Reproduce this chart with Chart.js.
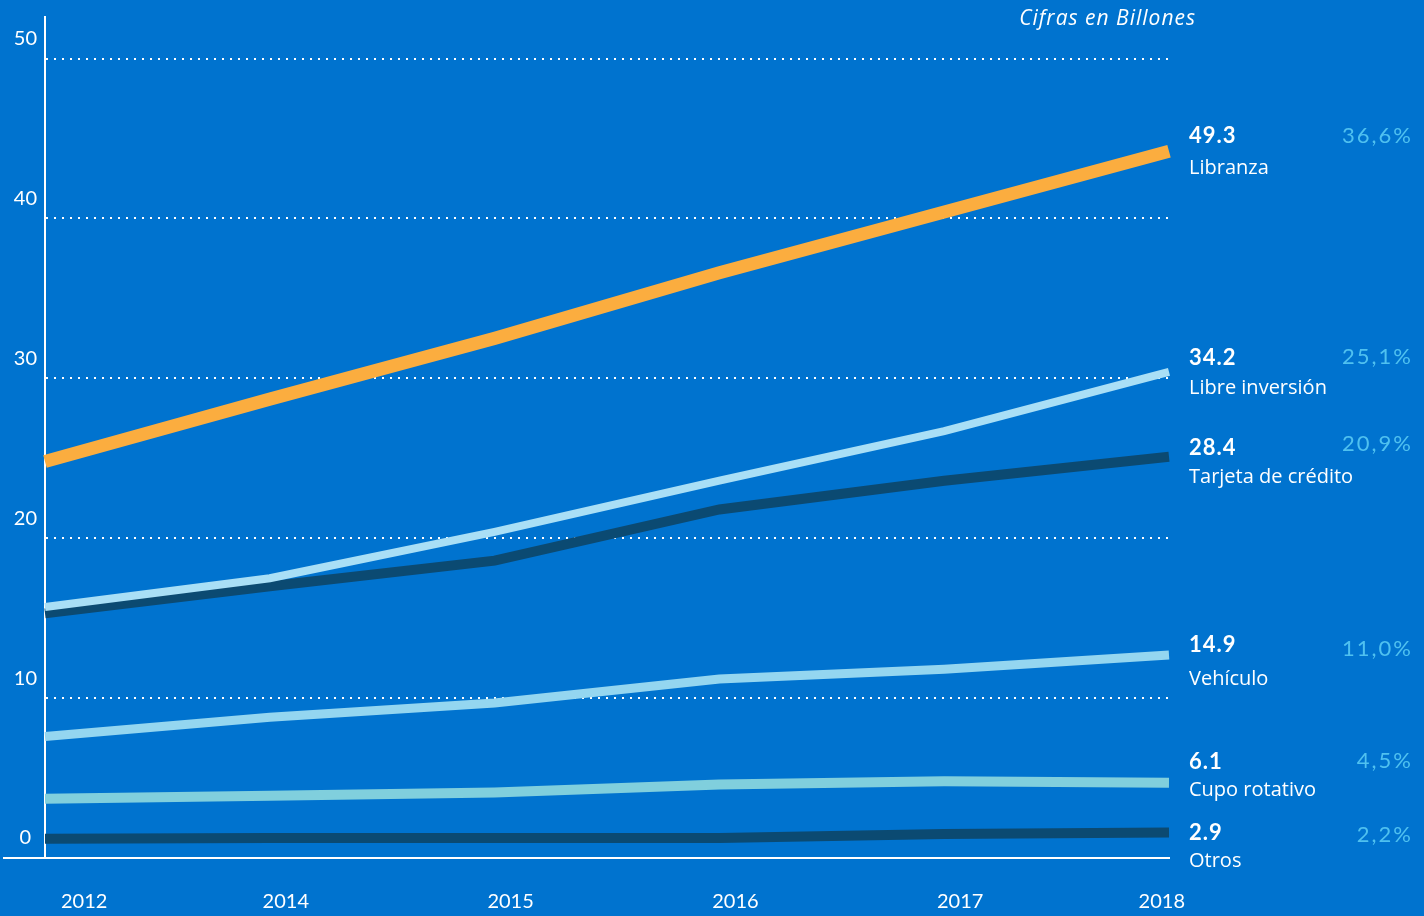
<!DOCTYPE html>
<html lang="es">
<head>
    <meta charset="UTF-8">
    <title>Cartera de consumo por modalidad</title>
    <script src="https://cdn.jsdelivr.net/npm/chart.js"></script>
    <style>
        html, body {
            margin: 0;
            padding: 0;
            background-color: #0073cf;
            overflow: hidden;
        }

        .chart-wrap {
            width: 1424px;
            height: 916px;
        }
    </style>
</head>
<body>
    <div class="chart-wrap">
        <canvas id="carteraChart" width="1424" height="916"></canvas>
    </div>

    <script>
        // Data
        const years = ['2012', '2014', '2015', '2016', '2017', '2018'];
        const yTicks = [0, 10, 20, 30, 40, 50];

        const libranza = [24.8, 28.7, 32.5, 36.6, 40.4, 44.2];
        const libreInversion = [15.7, 17.5, 20.4, 23.6, 26.7, 30.4];
        const tarjeta = [15.3, 17.0, 18.6, 21.8, 23.6, 25.1];
        const vehiculo = [7.6, 8.8, 9.7, 11.2, 11.8, 12.7];
        const cupo = [3.7, 3.9, 4.1, 4.6, 4.8, 4.7];
        const otros = [1.2, 1.25, 1.25, 1.25, 1.5, 1.6];

        const seriesNames = ['Libranza', 'Libre inversión', 'Tarjeta de crédito', 'Vehículo', 'Cupo rotativo', 'Otros'];
        const totals = ['49.3', '34.2', '28.4', '14.9', '6.1', '2.9'];
        const shares = ['36,6%', '25,1%', '20,9%', '11,0%', '4,5%', '2,2%'];

        const FONT = 'Lato, "Open Sans", sans-serif';
        const TEXT_FONT = '"Open Sans", Lato, sans-serif';

        // Labels to the right of each line end + note at the top
        const endLabels = {
            id: 'endLabels',
            afterDraw(chart, args, opts) {
                const ctx = chart.ctx;
                const area = chart.chartArea;
                ctx.save();

                // x axis line runs a bit past the y axis on the left
                ctx.strokeStyle = '#ffffff';
                ctx.lineWidth = 2;
                ctx.beginPath();
                ctx.moveTo(3, area.bottom);
                ctx.lineTo(area.left, area.bottom);
                ctx.stroke();

                ctx.textBaseline = 'middle';
                chart.data.datasets.forEach((ds, i) => {
                    const meta = chart.getDatasetMeta(i);
                    const last = meta.data[meta.data.length - 1];
                    const y = last.y + opts.valueShift[i];

                    ctx.textAlign = 'left';
                    ctx.fillStyle = '#ffffff';
                    ctx.letterSpacing = '1px';
                    ctx.font = 'bold 22px ' + FONT;
                    ctx.fillText(totals[i], area.right + 20, y);

                    ctx.letterSpacing = '0px';
                    ctx.font = '20px ' + TEXT_FONT;
                    ctx.fillText(seriesNames[i], area.right + 20, y + opts.nameGap[i]);

                    ctx.textAlign = 'right';
                    ctx.fillStyle = '#4fc1f0';
                    ctx.letterSpacing = '2px';
                    ctx.font = '22px ' + FONT;
                    ctx.fillText(shares[i], chart.width - 11, y + opts.shareShift[i]);
                    ctx.letterSpacing = '0px';
                });

                ctx.textAlign = 'right';
                ctx.fillStyle = '#ffffff';
                ctx.letterSpacing = '1px';
                ctx.font = 'italic 21px ' + TEXT_FONT;
                ctx.fillText('Cifras en Billones', 1196, 19);
                ctx.restore();
            }
        };

        function lineSet(label, data, color, width) {
            return {
                label: label,
                data: data,
                borderColor: color,
                borderWidth: width,
                pointRadius: 0,
                pointHoverRadius: 0,
                tension: 0,
                fill: false,
                clip: false,
                borderCapStyle: 'butt',
                borderJoinStyle: 'miter'
            };
        }

        const ctx = document.getElementById('carteraChart').getContext('2d');
        new Chart(ctx, {
            type: 'line',
            data: {
                labels: years,
                datasets: [
                    lineSet(seriesNames[0], libranza, '#fbad3f', 13),
                    lineSet(seriesNames[1], libreInversion, '#a9dff6', 8),
                    lineSet(seriesNames[2], tarjeta, '#0b4a72', 10),
                    lineSet(seriesNames[3], vehiculo, '#94d6f0', 9),
                    lineSet(seriesNames[4], cupo, '#80cfdd', 10),
                    lineSet(seriesNames[5], otros, '#0b4a72', 10)
                ]
            },
            options: {
                responsive: false,
                animation: false,
                devicePixelRatio: 1,
                layout: {
                    padding: { top: 17, right: 255, bottom: 0, left: 0 }
                },
                plugins: {
                    legend: { display: false },
                    tooltip: { enabled: false },
                    endLabels: {
                        valueShift: [-15, -14, -9, -10, -21, 0],
                        nameGap: [32, 30, 30, 34, 28, 29],
                        shareShift: [0, -1, -4, 4, -1, 2]
                    }
                },
                scales: {
                    x: {
                        offset: false,
                        afterFit: (scale) => {
                            scale.height = 58;
                            scale.paddingLeft = 0;
                            scale.paddingRight = 0;
                        },
                        grid: { display: false, drawTicks: false },
                        border: { color: '#ffffff', width: 2 },
                        ticks: {
                            color: '#ffffff',
                            font: { family: FONT, size: 20 },
                            padding: 32,
                            align: 'inner',
                            labelOffset: 16,
                            maxRotation: 0,
                            autoSkip: false
                        }
                    },
                    y: {
                        min: 0,
                        max: 52.6,
                        afterBuildTicks: (scale) => {
                            scale.ticks = yTicks.map(v => ({ value: v }));
                        },
                        afterFit: (scale) => {
                            scale.width = 45;
                            scale.paddingTop = 0;
                            scale.paddingBottom = 0;
                        },
                        grid: {
                            drawTicks: false,
                            lineWidth: 2,
                            color: (c) => (c.tick && c.tick.value === 0) ? 'rgba(0,0,0,0)' : '#ffffff'
                        },
                        border: { color: '#ffffff', width: 2, dash: [2, 6] },
                        ticks: {
                            color: '#ffffff',
                            font: { family: FONT, size: 20 },
                            padding: 8,
                            crossAlign: 'center',
                            labelOffset: -20
                        }
                    }
                }
            },
            plugins: [endLabels]
        });
    </script>
</body>
</html>
